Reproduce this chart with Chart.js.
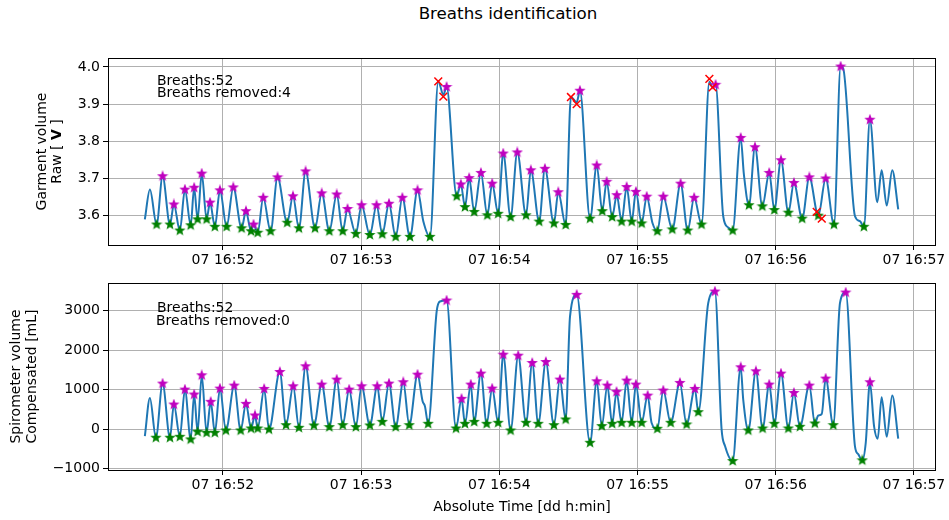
<!DOCTYPE html>
<html>
<head>
<meta charset="utf-8">
<script src="https://cdn.jsdelivr.net/npm/chart.js@4"></script>
<style>
  body { margin: 0; background: #fff; }
  #wrap { position: relative; width: 949px; height: 520px; overflow: hidden; }
  #title { position: absolute; left: 508px; top: 3px; transform: translateX(-50%);
           font-family: 'DejaVu Sans'; font-size: 16.7px; color: #000; white-space: nowrap; }
  canvas { position: absolute; left: 0; }
</style>
</head>
<body>
<div id="wrap">
  <div id="title">Breaths identification</div>
  <canvas id="topChart" width="949" height="265" style="top:0px"></canvas>
  <canvas id="botChart" width="949" height="255" style="top:265px"></canvas>
</div>
<script>
// seconds after 07 16:51:00
const xTickValues = [60, 120, 180, 240, 300, 360];
const xTickLabels = ['07 16:52', '07 16:53', '07 16:54', '07 16:55', '07 16:56', '07 16:57'];

// garment volume, raw [V]
const topTime = [26.1, 28.3, 31.2, 33.8, 37.0, 38.7, 41.3, 43.5, 46.0, 47.5,
    49.0, 50.8, 52.9, 54.4, 56.5, 58.7, 61.6, 64.5, 68.1, 70.0,
    72.2, 73.3, 75.1, 77.5, 80.7, 83.7, 87.9, 90.4, 93.0, 95.9,
    100.0, 102.9, 106.2, 109.4, 112.0, 114.1, 117.7, 120.2, 123.8, 126.7,
    129.2, 132.1, 135.0, 137.9, 141.2, 144.5, 147.0, 149.9, 153.5, 155.7,
    157.1, 161.5, 163.3, 165.1, 166.9, 169.1, 172.0, 174.8, 176.9, 179.5,
    181.7, 184.9, 187.8, 191.6, 193.7, 197.3, 199.8, 203.7, 205.6, 208.8,
    211.1, 213.6, 215.0, 219.4, 222.3, 224.7, 226.6, 229.0, 231.0, 233.1,
    235.3, 237.5, 239.3, 241.8, 244.0, 246.5, 248.6, 251.2, 255.1, 258.7,
    261.8, 264.6, 267.8, 271.2, 272.6, 273.9, 277.2, 279.4, 281.3, 284.8,
    286.2, 288.4, 291.0, 294.2, 297.2, 299.4, 302.3, 305.5, 307.9, 311.5,
    314.6, 318.5, 321.7, 325.3, 328.2, 329.3, 334.4, 336.6, 338.3, 340.9,
    344.1, 346.0, 348.2, 350.6, 353.2];
const topVolume = [3.590, 3.670, 3.576, 3.706, 3.576, 3.630, 3.560, 3.670, 3.574, 3.675,
    3.590, 3.713, 3.590, 3.635, 3.570, 3.668, 3.570, 3.676, 3.566, 3.612,
    3.558, 3.576, 3.554, 3.648, 3.558, 3.703, 3.581, 3.652, 3.566, 3.719,
    3.566, 3.660, 3.558, 3.657, 3.558, 3.618, 3.551, 3.628, 3.548, 3.628,
    3.550, 3.632, 3.543, 3.648, 3.543, 3.668, 3.585, 3.543, 3.961, 3.925,
    3.946, 3.652, 3.684, 3.623, 3.701, 3.610, 3.715, 3.601, 3.686, 3.605,
    3.767, 3.596, 3.770, 3.601, 3.722, 3.584, 3.726, 3.579, 3.663, 3.575,
    3.919, 3.905, 3.936, 3.592, 3.735, 3.612, 3.691, 3.596, 3.655, 3.584,
    3.677, 3.584, 3.664, 3.579, 3.651, 3.580, 3.558, 3.651, 3.563, 3.686,
    3.560, 3.648, 3.576, 3.960, 3.945, 3.952, 3.599, 3.568, 3.560, 3.809,
    3.710, 3.628, 3.784, 3.625, 3.715, 3.615, 3.749, 3.608, 3.688, 3.592,
    3.703, 3.600, 3.700, 3.576, 4.001, 3.996, 3.599, 3.585, 3.570, 3.858,
    3.636, 3.722, 3.627, 3.722, 3.617];
const topPeakTimes = [33.8, 38.7, 43.5, 47.5, 50.8, 54.4, 58.7, 64.5, 70.0, 73.3,
    77.5, 83.7, 90.4, 95.9, 102.9, 109.4, 114.1, 120.2, 126.7, 132.1,
    137.9, 144.5, 157.1, 163.3, 166.9, 172.0, 176.9, 181.7, 187.8, 193.7,
    199.8, 205.6, 215.0, 222.3, 226.6, 231.0, 235.3, 239.3, 244.0, 251.2,
    258.7, 264.6, 273.9, 284.8, 291.0, 297.2, 302.3, 307.9, 314.6, 321.7,
    328.2, 340.9];
const topTroughTimes = [31.2, 37.0, 41.3, 46.0, 49.0, 52.9, 56.5, 61.6, 68.1, 72.2,
    75.1, 80.7, 87.9, 93.0, 100.0, 106.2, 112.0, 117.7, 123.8, 129.2,
    135.0, 141.2, 149.9, 161.5, 165.1, 169.1, 174.8, 179.5, 184.9, 191.6,
    197.3, 203.7, 208.8, 219.4, 224.7, 229.0, 233.1, 237.5, 241.8, 248.6,
    255.1, 261.8, 267.8, 281.3, 288.4, 294.2, 299.4, 305.5, 311.5, 318.5,
    325.3, 338.3];
// removed breaths (red crosses)
const removedTime = [153.5, 155.7, 211.1, 213.6, 271.2, 272.6, 317.8, 320.0];
const removedVolume = [3.961, 3.920, 3.919, 3.900, 3.968, 3.945, 3.610, 3.592];

// spirometer volume, compensated [mL]
const botTime = [26.1, 28.3, 30.9, 33.8, 37.0, 38.7, 41.3, 43.5, 46.0, 47.5,
    49.0, 50.8, 52.9, 54.7, 56.5, 58.7, 61.3, 64.9, 67.7, 70.0,
    72.2, 73.9, 75.1, 77.9, 80.0, 84.7, 87.4, 90.5, 93.0, 95.9,
    99.5, 102.9, 106.2, 109.4, 112.0, 114.8, 117.7, 120.2, 123.8, 127.0,
    129.2, 132.1, 135.0, 138.3, 140.9, 144.5, 146.7, 147.7, 149.1, 152.8,
    154.2, 157.1, 161.2, 163.6, 165.1, 167.6, 169.1, 172.0, 174.5, 176.9,
    179.5, 181.7, 184.9, 188.2, 191.6, 194.3, 196.9, 200.2, 203.7, 206.3,
    208.8, 210.7, 213.6, 219.4, 222.3, 224.5, 226.9, 229.0, 230.9, 233.1,
    235.3, 237.5, 239.3, 241.8, 244.4, 246.1, 248.6, 251.2, 254.4, 258.4,
    261.3, 264.9, 266.4, 270.7, 273.6, 276.5, 278.0, 281.3, 284.8, 285.9,
    288.1, 291.4, 294.3, 297.2, 299.4, 302.3, 305.5, 307.9, 310.5, 314.6,
    317.0, 318.5, 320.0, 321.7, 325.0, 327.9, 330.4, 334.4, 335.9, 337.6,
    339.1, 340.9, 342.7, 344.3, 346.0, 348.2, 350.6, 353.2];
const botVolume = [-178, 791, -220, 1154, -220, 623, -195, 1002, -262, 876,
    -69, 1365, -94, 690, -94, 1027, -35, 1103, -35, 640,
    16, 345, 16, 1019, -10, 1449, 100, 1086, 33, 1592,
    92, 1128, 50, 1255, 100, 1002, 50, 1086, 92, 1086,
    184, 1154, 50, 1188, 100, 1381, 707, 580, 134, 2983,
    3236, 3261, 16, 766, 134, 1128, 184, 1407, 134, 1027,
    159, 1887, -35, 1862, 159, 1676, 134, 1702, 100, 1255,
    243, 2857, 3405, -347, 1213, 75, 1103, 134, 943, 159,
    1230, 159, 1128, 159, 850, 160, 7, 977, 159, 1171,
    117, 1019, 429, 3194, 3489, 0, -431, -810, 1567, 749,
    -35, 1466, 16, 1128, 134, 1407, 16, 918, 58, 1103,
    142, 345, 387, 1280, 100, 3194, 3464, -431, -642, -793,
    -347, 1188, 75, -245, 808, -195, 850, -245];
const botPeakTimes = [33.8, 38.7, 43.5, 47.5, 50.8, 54.7, 58.7, 64.9, 70.0, 73.9,
    77.9, 84.7, 90.5, 95.9, 102.9, 109.4, 114.8, 120.2, 127.0, 132.1,
    138.3, 144.5, 157.1, 163.6, 167.6, 172.0, 176.9, 181.7, 188.2, 194.3,
    200.2, 206.3, 213.6, 222.3, 226.9, 230.9, 235.3, 239.3, 244.4, 251.2,
    258.4, 264.9, 273.6, 284.8, 291.4, 297.2, 302.3, 307.9, 314.6, 321.7,
    330.4, 340.9];
const botTroughTimes = [30.9, 37.0, 41.3, 46.0, 49.0, 52.9, 56.5, 61.3, 67.7, 72.2,
    75.1, 80.0, 87.4, 93.0, 99.5, 106.2, 112.0, 117.7, 123.8, 129.2,
    135.0, 140.9, 149.1, 161.2, 165.1, 169.1, 174.5, 179.5, 184.9, 191.6,
    196.9, 203.7, 208.8, 219.4, 224.5, 229.0, 233.1, 237.5, 241.8, 248.6,
    254.4, 261.3, 266.4, 281.3, 288.1, 294.3, 299.4, 305.5, 310.5, 317.0,
    325.0, 337.6];

const topYTicks = [3.6, 3.7, 3.8, 3.9, 4.0];
const botYTicks = [-1000, 0, 1000, 2000, 3000];

const breathsTop = 52, removedTop = 4;
const breathsBot = 52, removedBot = 0;

Chart.defaults.font.family = 'DejaVu Sans';
Chart.defaults.font.size = 14;
Chart.defaults.color = '#000';

// filled five point star like matplotlib '*'
function makeStar(color, size) {
    const c = document.createElement('canvas');
    c.width = size; c.height = size;
    const g = c.getContext('2d');
    const R = size / 2, r = R * 0.42;
    g.beginPath();
    for (let i = 0; i < 10; i++) {
        const ang = -Math.PI / 2 + i * Math.PI / 5;
        const rr = i % 2 ? r : R;
        g.lineTo(R + rr * Math.cos(ang), R + rr * Math.sin(ang));
    }
    g.closePath();
    g.fillStyle = color;
    g.fill();
    return c;
}
const magentaStar = makeStar('#bf00bf', 12);
const greenStar = makeStar('#008000', 12);

function toPoints(times, values) {
    return times.map((t, i) => ({ x: t, y: values[i] }));
}
function pick(times, values, wanted) {
    return wanted.map(t => ({ x: t, y: values[times.indexOf(t)] }));
}

// frame box, notes and y titles
const decorPlugin = {
    id: 'decor',
    afterDraw(chart, args, opts) {
        const ctx = chart.ctx;
        const a = chart.chartArea;
        ctx.save();
        ctx.strokeStyle = '#000';
        ctx.lineWidth = 1;
        ctx.strokeRect(Math.round(a.left) + 0.5, Math.round(a.top) + 0.5,
            Math.round(a.right - a.left) - 1, Math.round(a.bottom - a.top));
        ctx.fillStyle = '#000';
        ctx.textBaseline = 'alphabetic';
        ctx.textAlign = 'left';
        ctx.font = '14px "DejaVu Sans"';
        opts.notes.forEach(n => ctx.fillText(n.text, n.x, n.y));
        const cy = (a.top + a.bottom) / 2;
        opts.yTitle.forEach(line => {
            ctx.save();
            ctx.translate(line.x, cy);
            ctx.rotate(-Math.PI / 2);
            ctx.textBaseline = 'middle';
            let total = 0;
            line.parts.forEach(p => {
                ctx.font = (p.bold ? 'bold ' : '') + '14px "DejaVu Sans"';
                total += ctx.measureText(p.t).width;
            });
            let x = -total / 2;
            line.parts.forEach(p => {
                ctx.font = (p.bold ? 'bold ' : '') + '14px "DejaVu Sans"';
                ctx.fillText(p.t, x, 0);
                x += ctx.measureText(p.t).width;
            });
            ctx.restore();
        });
        ctx.restore();
    }
};

function buildChart(id, cfg) {
    const datasets = [
        {
            data: toPoints(cfg.time, cfg.volume),
            borderColor: '#1f77b4', borderWidth: 2,
            pointRadius: 0, fill: false,
            cubicInterpolationMode: 'monotone', order: 3
        },
        {
            data: pick(cfg.time, cfg.volume, cfg.troughs),
            showLine: false, pointStyle: greenStar, pointRadius: 6, order: 2
        },
        {
            data: pick(cfg.time, cfg.volume, cfg.peaks),
            showLine: false, pointStyle: magentaStar, pointRadius: 6, order: 2
        }
    ];
    if (cfg.removed) {
        datasets.push({
            data: cfg.removed,
            showLine: false, pointStyle: 'crossRot', pointRadius: 5.5,
            borderColor: '#ff0000', borderWidth: 1.5, order: 1
        });
    }

    return new Chart(document.getElementById(id), {
        type: 'line',
        data: { datasets: datasets },
        options: {
            responsive: false,
            animation: false,
            devicePixelRatio: 1,
            layout: { padding: { top: cfg.padTop, right: 13, left: 0, bottom: 0 } },
            plugins: {
                legend: { display: false },
                tooltip: { enabled: false },
                decor: { notes: cfg.notes, yTitle: cfg.yTitle }
            },
            scales: {
                x: {
                    type: 'linear', min: 10.1, max: 369.6,
                    afterBuildTicks: s => { s.ticks = xTickValues.map(v => ({ value: v })); },
                    afterFit: s => { s.height = cfg.xHeight; },
                    ticks: {
                        autoSkip: false, maxRotation: 0, padding: 2,
                        callback: (v, i) => xTickLabels[i]
                    },
                    grid: { color: '#b0b0b0', lineWidth: 1, tickLength: 5, tickColor: '#000' },
                    border: { display: false },
                    title: cfg.xTitle ? {
                        display: true, text: cfg.xTitle, padding: { top: 0, bottom: 4 }
                    } : { display: false }
                },
                y: {
                    type: 'linear', min: cfg.yMin, max: cfg.yMax,
                    afterBuildTicks: s => { s.ticks = cfg.yTicks.map(v => ({ value: v })); },
                    afterFit: s => { s.width = 108; },
                    ticks: { padding: 3, callback: cfg.yFormat },
                    grid: { color: '#b0b0b0', lineWidth: 1, tickLength: 5, tickColor: '#000' },
                    border: { display: false }
                }
            }
        },
        plugins: [decorPlugin]
    });
}

buildChart('topChart', {
    time: topTime, volume: topVolume,
    peaks: topPeakTimes, troughs: topTroughTimes,
    removed: toPoints(removedTime, removedVolume),
    yMin: 3.521, yMax: 4.024, yTicks: topYTicks,
    yFormat: v => v.toFixed(1),
    padTop: 58, xHeight: 20,
    notes: [
        { text: 'Breaths:' + breathsTop, x: 157, y: 85 },
        { text: 'Breaths removed:' + removedTop, x: 157, y: 97 }
    ],
    yTitle: [
        { x: 42, parts: [{ t: 'Garment volume' }] },
        { x: 57, parts: [{ t: 'Raw [ ' }, { t: 'V', bold: true }, { t: ' ]' }] }
    ]
});

buildChart('botChart', {
    time: botTime, volume: botVolume,
    peaks: botPeakTimes, troughs: botTroughTimes,
    removed: null,
    yMin: -1038, yMax: 3705, yTicks: botYTicks,
    yFormat: v => v < 0 ? '\u2212' + Math.abs(v) : String(v),
    padTop: 18, xHeight: 50,
    xTitle: 'Absolute Time [dd h:min]',
    notes: [
        { text: 'Breaths:' + breathsBot, x: 157, y: 47 },
        { text: 'Breaths removed:' + removedBot, x: 156, y: 60 }
    ],
    yTitle: [
        { x: 16, parts: [{ t: 'Spirometer volume' }] },
        { x: 32, parts: [{ t: 'Compensated [mL]' }] }
    ]
});
</script>
</body>
</html>
